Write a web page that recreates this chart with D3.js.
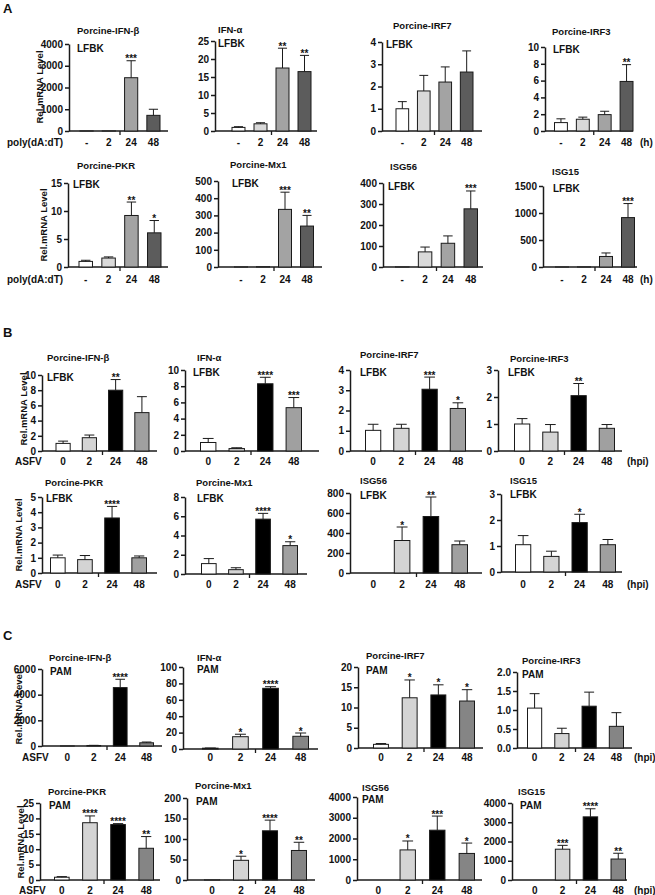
<!DOCTYPE html>
<html>
<head>
<meta charset="utf-8">
<script src="https://cdn.jsdelivr.net/npm/d3@7"></script>
<style>
body { margin:0; background:#fff; }
svg text { font-family: "Liberation Sans", Arial, sans-serif; font-weight: bold; fill: #111; }
.stars { opacity: 0.99; }
</style>
</head>
<body>
<svg width="655" height="895"></svg>
<script>
// ---- data ----
var genes = ["Porcine-IFN-\u03b2","IFN-\u03b1","Porcine-IRF7","Porcine-IRF3","Porcine-PKR","Porcine-Mx1","ISG56","ISG15"];
var timesA = ["-","2","24","48"];
var timesBC = ["0","2","24","48"];

// panel A, LFBK + poly(dA:dT)
var meanA = [[1,4,2450,720],[1.0,2.0,17.5,16.5],[1.0,1.8,2.2,2.65],[1.0,1.4,1.95,5.9],
             [1.0,1.6,9.2,6.1],[1,2,335,238],[1,72,113,277],[1,3,195,915]];
var sdA   = [[0,0,780,280],[0.2,0.3,5.5,4.5],[0.32,0.7,0.68,0.95],[0.45,0.25,0.4,2.0],
             [0.2,0.2,2.4,2.2],[0,0,100,62],[0,23,35,85],[0,0,65,260]];
var starsA = [["","","***",""],["","","**","**"],["","","",""],["","","","**"],
              ["","","**","*"],["","","***","**"],["","","","***"],["","","","***"]];
var yTopA  = [4000,25,4,10,15,500,400,1500];
var yStepA = [1000,5,1,2,5,100,100,500];

// panel B, LFBK + ASFV
var meanB = [[1.0,1.75,8.0,5.05],[1.05,0.3,8.3,5.35],[1.02,1.12,3.05,2.1],[1.0,0.7,2.05,0.84],
             [1.0,0.88,3.62,1.0],[1.08,0.45,5.7,2.95],[0,325,565,283],[1.05,0.6,1.9,1.05]];
var sdB   = [[0.3,0.35,1.4,2.1],[0.5,0.1,0.8,1.25],[0.3,0.2,0.6,0.28],[0.2,0.28,0.45,0.14],
             [0.18,0.27,0.76,0.12],[0.52,0.2,0.6,0.4],[0,135,195,37],[0.35,0.2,0.32,0.2]];
var starsB = [["","","**",""],["","","****","***"],["","","***","*"],["","","**",""],
              ["","","****",""],["","","****","*"],["","*","**",""],["","","*",""]];
var yTopB  = [10,10,4,3,5,8,800,3];
var yStepB = [2,2,1,1,1,2,200,1];

// panel C, PAM + ASFV
var meanC = [[1,40,4550,250],[1,15,74,15.5],[0.9,12.4,13.1,11.6],[1.05,0.38,1.1,0.57],
             [0.9,18.6,18.0,10.3],[0.5,48,120,72],[0,1450,2400,1280],[0,1600,3280,1090]];
var sdC   = [[0,10,650,60],[0.2,3,2,4],[0.2,4.4,2.5,2.8],[0.38,0.14,0.37,0.36],
             [0.2,2.2,0.3,3.8],[0,10,26,20],[0,430,680,500],[0,200,420,300]];
var starsC = [["","","****",""],["","*","****","*"],["","*","*","*"],["","","",""],
              ["","****","****","**"],["","*","****","**"],["","*","***","*"],["","***","****","**"]];
var yTopC  = [6000,100,20,2,25,200,4000,4000];
var yStepC = [2000,20,5,0.5,5,50,1000,1000];

// ---- styles / layout ----
var fillA = ["#ffffff","#d9d9d9","#a3a3a3","#5c5c5c"];
var fillB = ["#ffffff","#d4d4d4","#000000","#a0a0a0"];
var fillC = ["#ffffff","#d4d4d4","#000000","#858585"];

// axisX, axisW, top, bottom, bandPadL, bandPadR, titleX, titleY, cellX, cellY
var layoutA = [
  [69,99,44,131,11,8,77,33.5,77,52],
  [215,102,41,131,17,6,218,33,218,47],
  [382,100,42,131,14,9,393,28.5,386,48],
  [545,88,47,131,9.5,0,552,35,553,53],
  [68,100,183,267,11,7,77,168.5,73,188],
  [218,104,181,267,16.5,8.5,230,167.5,232,186.5],
  [383,100,183,267,12.5,5.5,390,170,388,190],
  [543,94,186,267,12.5,2.5,552,175,553,192]
];
var layoutB = [
  [42,115,375,451,14,8,47,361,47,381],
  [185,134,370,451,15.5,17.5,197,361,193,376],
  [350,132,370,451,15.5,16.5,360,357.5,360,376],
  [498,124,370,451,16.5,7.5,510,362,508,376],
  [42,115,497,573,8.5,10.5,45,486,46,502],
  [185,122,497,574,16.5,9.5,196,486,197,502],
  [350,132,493,573,15.5,14.5,360,483.5,360,498.5],
  [501,121,494,572,14.5,6.5,510,483.5,510,498]
];
var layoutC = [
  [42,120,669,746,18.5,8.5,49,661,50,675],
  [183,135,667,749,19.5,9.5,197,661,197,672.5],
  [358,125,667,748,15.5,8.5,366,658.5,366,673.5],
  [517,115,672,748,10.5,8.5,522,663.5,522,677.5],
  [40,120,803,880,14.5,6.5,48,795,49,809],
  [187,128,798,880,17.5,8.5,195,789,196,805],
  [357,125,797,880,13.5,7.5,362,791,362,802.5],
  [512,115,803,880,15.5,1.5,518,795,520,809]
];

var panels = [
  {letter:"A", letterY:13, cell:"LFBK", times:timesA, mean:meanA, sd:sdA, stars:starsA, yTop:yTopA, yStep:yStepA,
   fill:fillA, layout:layoutA, pad:0.41, rowY:[145.5,283], left:"poly(dA:dT)", leftX:[7,7], right:"(h)", rightX:640,
   yLab:[[39,87],[43,225]]},
  {letter:"B", letterY:337, cell:"LFBK", times:timesBC, mean:meanB, sd:sdB, stars:starsB, yTop:yTopB, yStep:yStepB,
   fill:fillB, layout:layoutB, pad:0.46, rowY:[464.5,588], left:"ASFV", leftX:[15,15], right:"(hpi)", rightX:627,
   yLab:[[23,409],[18,535]]},
  {letter:"C", letterY:640, cell:"PAM", times:timesBC, mean:meanC, sd:sdC, stars:starsC, yTop:yTopC, yStep:yStepC,
   fill:fillC, layout:layoutC, pad:0.48, rowY:[761,894], left:"ASFV", leftX:[22,19], right:"(hpi)", rightX:634,
   yLab:[[18,708],[20,842]]}
];

var svg = d3.select("svg");
var ink = "#1a1a1a";

var drawChart = function(p, i)
{
  var L = p.layout[i];
  var x0 = L[0], w = L[1], top = L[2], bot = L[3];
  var row = i < 4 ? 0 : 1;

  var xScale = d3.scaleBand()
                 .domain(p.times)
                 .range([x0 + L[4], x0 + w - L[5]])
                 .paddingInner(p.pad)
                 .paddingOuter(0);
  var yScale = d3.scaleLinear()
                 .domain([0, p.yTop[i]])
                 .range([bot, top]);
  var bw = xScale.bandwidth();

  var fmt = p.yStep[i] < 1 ? d3.format(".1f") : d3.format("d");
  var yAxis = d3.axisLeft(yScale)
                .tickValues(d3.range(0, p.yTop[i] + p.yStep[i] / 2, p.yStep[i]))
                .tickSize(4)
                .tickSizeOuter(0)
                .tickFormat(fmt);
  var g = svg.append("g")
             .attr("transform", "translate(" + x0 + ",0)")
             .call(yAxis);
  g.select(".domain").attr("stroke", ink).attr("stroke-width", 1.5);
  g.selectAll(".tick line").attr("stroke", ink).attr("stroke-width", 1.5);
  g.selectAll(".tick text")
   .attr("x", -6)
   .attr("font-size", "10px")
   .attr("font-family", null)
   .attr("fill", "#111");

  // x axis line + middle tick
  svg.append("line")
     .attr("x1", x0).attr("x2", x0 + w)
     .attr("y1", bot).attr("y2", bot)
     .attr("stroke", ink).attr("stroke-width", 1.5);
  var tx = (xScale(p.times[1]) + xScale(p.times[2]) + bw) / 2;
  svg.append("line")
     .attr("x1", tx).attr("x2", tx)
     .attr("y1", bot).attr("y2", bot + 4)
     .attr("stroke", ink).attr("stroke-width", 1.3);

  var rows = p.times.map(function(t, j)
  {
    return {t: t, m: p.mean[i][j], s: p.sd[i][j], st: p.stars[i][j], c: p.fill[j]};
  });

  var bars = svg.append("g");
  bars.selectAll("rect")
      .data(rows)
      .enter()
      .append("rect")
      .attr("x", function(d){ return xScale(d.t); })
      .attr("y", function(d){ return yScale(d.m); })
      .attr("width", bw)
      .attr("height", function(d){ return bot - yScale(d.m); })
      .attr("fill", function(d){ return d.c; })
      .attr("stroke", ink)
      .attr("stroke-width", 1);

  var errs = rows.filter(function(d){ return d.s > 0; });
  bars.selectAll(".err")
      .data(errs)
      .enter()
      .append("line")
      .attr("x1", function(d){ return xScale(d.t) + bw / 2; })
      .attr("x2", function(d){ return xScale(d.t) + bw / 2; })
      .attr("y1", function(d){ return yScale(d.m); })
      .attr("y2", function(d){ return yScale(d.m + d.s); })
      .attr("stroke", ink).attr("stroke-width", 1);
  bars.selectAll(".cap")
      .data(errs)
      .enter()
      .append("line")
      .attr("x1", function(d){ return xScale(d.t) + bw * 0.15; })
      .attr("x2", function(d){ return xScale(d.t) + bw * 0.85; })
      .attr("y1", function(d){ return yScale(d.m + d.s); })
      .attr("y2", function(d){ return yScale(d.m + d.s); })
      .attr("stroke", ink).attr("stroke-width", 1);

  svg.append("g").classed("stars", true)
      .selectAll("text")
      .data(rows.filter(function(d){ return d.st != ""; }))
      .enter()
      .append("text")
      .attr("x", function(d){ return xScale(d.t) + bw / 2; })
      .attr("y", function(d){ return yScale(d.m + d.s) + 1.5; })
      .attr("text-anchor", "middle")
      .attr("font-size", "10px")
      .text(function(d){ return d.st; });

  // x labels
  svg.append("g").selectAll("text")
     .data(p.times)
     .enter()
     .append("text")
     .attr("x", function(d){ return xScale(d) + bw / 2; })
     .attr("y", p.rowY[row])
     .attr("text-anchor", "middle")
     .attr("font-size", "10px")
     .text(function(d){ return d; });

  svg.append("text")
     .attr("x", L[6]).attr("y", L[7])
     .attr("font-size", "9.5px")
     .text(genes[i]);
  svg.append("text")
     .attr("x", L[8]).attr("y", L[9])
     .attr("font-size", "10px")
     .text(p.cell);
};

panels.forEach(function(p)
{
  svg.append("text")
     .attr("x", 3).attr("y", p.letterY)
     .attr("font-size", "13px")
     .text(p.letter);

  for (var i = 0; i < 8; i++) { drawChart(p, i); }

  [0, 1].forEach(function(r)
  {
    svg.append("text")
       .attr("x", p.leftX[r]).attr("y", p.rowY[r])
       .attr("font-size", "10px")
       .text(p.left);
    svg.append("text")
       .attr("x", p.rightX).attr("y", p.rowY[r])
       .attr("font-size", "10px")
       .text(p.right);
    svg.append("text")
       .attr("transform", "translate(" + (p.yLab[r][0] + 3.5) + "," + p.yLab[r][1] + ") rotate(-90)")
       .attr("text-anchor", "middle")
       .attr("font-size", "9.5px")
       .text("Rel.mRNA Level");
  });
});
</script>
</body>
</html>
